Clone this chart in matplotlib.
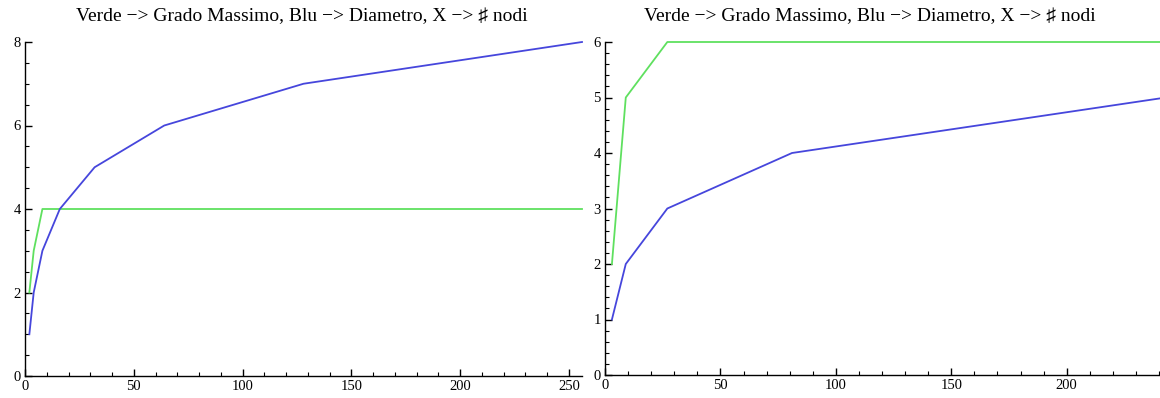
import matplotlib
matplotlib.use("Agg")
import matplotlib.pyplot as plt
from matplotlib.ticker import MultipleLocator

# left panel: 2^k nodes
nodi_a = [2, 4, 8, 16, 32, 64, 128, 256]
grado_a = [2, 3, 4, 4, 4, 4, 4, 4]
diam_a = [1, 2, 3, 4, 5, 6, 7, 8]

# right panel: 3^k nodes
nodi_b = [3, 9, 27, 81, 243]
grado_b = [2, 5, 6, 6, 6]
diam_b = [1, 2, 3, 4, 5]

titolo = "Verde \u2212> Grado Massimo, Blu \u2212> Diametro, X \u2212> \u266f nodi"

plt.rcParams['font.family'] = ['Liberation Serif', 'DejaVu Serif']

fig = plt.figure(figsize=(11.6, 3.98), dpi=100)
ax1 = fig.add_axes([25 / 1160, 22 / 398, 557 / 1160, 334 / 398])
ax2 = fig.add_axes([605 / 1160, 23 / 398, 561 / 1160, 333 / 398])

verde = '#5fe05f'
blu = '#4646dc'


def stile(ax, xmax, ymax, ymaj, ymin):
    ax.set_xlim(0, xmax)
    ax.set_ylim(0, ymax)
    for s in ['top', 'right']:
        ax.spines[s].set_visible(False)
    for s in ['left', 'bottom']:
        ax.spines[s].set_linewidth(1.0)
    ax.xaxis.set_major_locator(MultipleLocator(50))
    ax.xaxis.set_minor_locator(MultipleLocator(10))
    ax.yaxis.set_major_locator(MultipleLocator(ymaj))
    ax.yaxis.set_minor_locator(MultipleLocator(ymin))
    ax.tick_params(which='major', direction='in', length=5, width=1, labelsize=10.5, pad=3)
    ax.tick_params(which='minor', direction='in', length=3, width=0.8)
    ax.patch.set_alpha(0)


ax1.plot(nodi_a, grado_a, color=verde, lw=1.3, clip_on=False)
ax1.plot(nodi_a, diam_a, color=blu, lw=1.3, clip_on=False)
stile(ax1, 256, 8, 2, 0.5)

ax2.plot(nodi_b, grado_b, color=verde, lw=1.3, clip_on=False)
ax2.plot(nodi_b, diam_b, color=blu, lw=1.3, clip_on=False)
stile(ax2, 243, 6, 1, 0.2)

fig.text(302 / 1160, 1 - 17 / 398, titolo, fontsize=14, ha='center', va='center')
fig.text(870 / 1160, 1 - 17 / 398, titolo, fontsize=14, ha='center', va='center')

fig.savefig("out.png", dpi=100)
